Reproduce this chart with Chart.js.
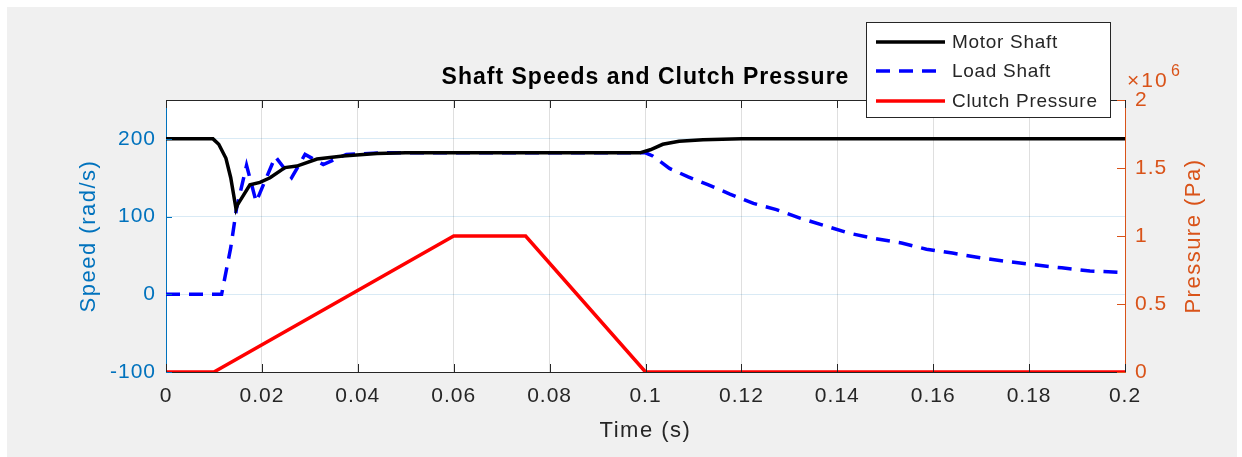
<!DOCTYPE html>
<html>
<head>
<meta charset="utf-8">
<script src="https://cdn.jsdelivr.net/npm/chart.js@4/dist/chart.umd.min.js"></script>
<style>
  html, body { margin: 0; padding: 0; background: #ffffff; }
  #wrap { width: 1242px; height: 457px; position: relative; }
</style>
</head>
<body>
<div id="wrap"><canvas id="shaft" width="1242" height="457"></canvas></div>
<script>
const titleText = 'Shaft Speeds and Clutch Pressure';

const motorTime  = [0, 0.0098, 0.011, 0.0125, 0.0135, 0.0146, 0.0149, 0.0162, 0.0175, 0.0196, 0.0217, 0.0248, 0.0273, 0.0315, 0.0369, 0.044, 0.05, 0.06, 0.08, 0.0988, 0.101, 0.1036, 0.107, 0.112, 0.12, 0.14, 0.2];
const motorSpeed = [200, 200, 193, 175, 150, 110, 115, 128, 141, 144, 150, 163, 165, 174, 178, 181, 182, 182, 182, 182, 186, 193, 197, 199, 200, 200, 200];

const loadTime  = [0, 0.0116, 0.0135, 0.0147, 0.0168, 0.0188, 0.0228, 0.0262, 0.029, 0.0328, 0.0376, 0.045, 0.1, 0.1015, 0.105, 0.1089, 0.113, 0.1176, 0.1225, 0.1273, 0.1322, 0.137, 0.1422, 0.1475, 0.1534, 0.1586, 0.164, 0.1698, 0.1757, 0.181, 0.1868, 0.1927, 0.2];
const loadSpeed = [0, 0, 60, 110, 166, 119, 177, 150, 180, 167, 180, 182, 182, 178, 162, 151, 141, 129, 117, 109, 98, 89, 79, 72, 66, 58, 53, 47, 42, 38, 34, 30, 28];

const clutchTime     = [0, 0.01, 0.06, 0.075, 0.1, 0.2];
const clutchPressure = [0, 0, 1e6, 1e6, 0, 0];

const xTicks      = [0, 0.02, 0.04, 0.06, 0.08, 0.1, 0.12, 0.14, 0.16, 0.18, 0.2];
const xTickLabels = ['0', '0.02', '0.04', '0.06', '0.08', '0.1', '0.12', '0.14', '0.16', '0.18', '0.2'];
const speedTicks  = [-100, 0, 100, 200];
const pressTicks  = [0, 0.5e6, 1e6, 1.5e6, 2e6];
const pressLabels = ['0', '0.5', '1', '1.5', '2'];

const BLUE = '#0072BD';
const ORANGE = '#D95319';
const DARK = '#262626';
const FONT = "'Liberation Sans', Arial, Helvetica, sans-serif";

function pts(xs, ys) {
  return xs.map((x, i) => ({ x: x, y: ys[i] }));
}

const decor = {
  id: 'decor',
  beforeDraw(chart) {
    const ctx = chart.ctx;
    const a = chart.chartArea;
    ctx.save();
    ctx.fillStyle = '#f0f0f0';
    ctx.fillRect(7, 7, 1230, 450);
    ctx.fillStyle = '#ffffff';
    ctx.fillRect(a.left, a.top, a.right - a.left, a.bottom - a.top);
    ctx.restore();
    // reference text runs a little wide
    ctx.letterSpacing = '1px';
  },
  afterDatasetsDraw(chart) {
    const ctx = chart.ctx;
    const a = chart.chartArea;
    const xs = chart.scales.x, yl = chart.scales.y, yr = chart.scales.y1;
    ctx.save();
    ctx.lineWidth = 1;
    // top border
    ctx.strokeStyle = DARK;
    ctx.beginPath();
    ctx.moveTo(a.left, a.top + 0.5);
    ctx.lineTo(a.right, a.top + 0.5);
    ctx.stroke();
    // inward ticks
    xTicks.forEach(v => {
      const px = Math.round(xs.getPixelForValue(v)) + 0.5;
      ctx.beginPath();
      ctx.moveTo(px, a.bottom); ctx.lineTo(px, a.bottom - 8);
      ctx.moveTo(px, a.top); ctx.lineTo(px, a.top + 8);
      ctx.stroke();
    });
    ctx.strokeStyle = BLUE;
    speedTicks.forEach(v => {
      const py = Math.round(yl.getPixelForValue(v)) + 0.5;
      ctx.beginPath();
      ctx.moveTo(a.left, py); ctx.lineTo(a.left + 6, py);
      ctx.stroke();
    });
    ctx.strokeStyle = ORANGE;
    pressTicks.forEach(v => {
      const py = Math.round(yr.getPixelForValue(v)) + 0.5;
      ctx.beginPath();
      ctx.moveTo(a.right, py); ctx.lineTo(a.right - 8, py);
      ctx.stroke();
    });

    // title
    ctx.letterSpacing = '1px';
    ctx.fillStyle = '#000000';
    ctx.font = 'bold 23px ' + FONT;
    ctx.textAlign = 'center';
    ctx.textBaseline = 'middle';
    ctx.fillText(titleText, (a.left + a.right) / 2, 78);

    // axis titles
    ctx.letterSpacing = '1.5px';
    ctx.font = '22px ' + FONT;
    ctx.fillStyle = DARK;
    ctx.fillText('Time (s)', (a.left + a.right) / 2, 431);
    ctx.save();
    ctx.translate(89, (a.top + a.bottom) / 2);
    ctx.rotate(-Math.PI / 2);
    ctx.fillStyle = BLUE;
    ctx.fillText('Speed (rad/s)', 0, 0);
    ctx.restore();
    ctx.save();
    ctx.translate(1194, (a.top + a.bottom) / 2);
    ctx.rotate(-Math.PI / 2);
    ctx.fillStyle = ORANGE;
    ctx.fillText('Pressure (Pa)', 0, 0);
    ctx.restore();

    // exponent
    ctx.fillStyle = ORANGE;
    ctx.textAlign = 'left';
    ctx.letterSpacing = '2px';
    ctx.font = '21px ' + FONT;
    ctx.fillText('\u00d710', 1127, 81);
    ctx.letterSpacing = '0px';
    ctx.font = '16px ' + FONT;
    ctx.fillText('6', 1171, 72);

    // legend
    const bx = 866, by = 22, bw = 244, bh = 95;
    ctx.fillStyle = '#ffffff';
    ctx.fillRect(bx, by, bw, bh);
    ctx.strokeStyle = DARK;
    ctx.lineWidth = 1;
    ctx.strokeRect(bx + 0.5, by + 0.5, bw, bh);
    const rows = [42, 71, 101];
    ctx.letterSpacing = '0.7px';
    chart.data.datasets.forEach((ds, i) => {
      ctx.strokeStyle = ds.borderColor;
      ctx.lineWidth = ds.borderWidth;
      ctx.setLineDash(ds.borderDash || []);
      ctx.beginPath();
      ctx.moveTo(876, rows[i]);
      ctx.lineTo(945, rows[i]);
      ctx.stroke();
      ctx.setLineDash([]);
      ctx.fillStyle = DARK;
      ctx.font = '19px ' + FONT;
      ctx.textAlign = 'left';
      ctx.fillText(ds.label, 952, rows[i] + 1);
    });
    ctx.restore();
  }
};

const ctx = document.getElementById('shaft').getContext('2d');

window.shaftChart = new Chart(ctx, {
  type: 'line',
  data: {
    datasets: [
      {
        label: 'Motor Shaft',
        data: pts(motorTime, motorSpeed),
        borderColor: '#000000',
        borderWidth: 3.5,
        pointRadius: 0,
        tension: 0,
        yAxisID: 'y'
      },
      {
        label: 'Load Shaft',
        data: pts(loadTime, loadSpeed),
        borderColor: '#0000FF',
        borderWidth: 3.5,
        borderDash: [14, 9],
        pointRadius: 0,
        tension: 0,
        yAxisID: 'y'
      },
      {
        label: 'Clutch Pressure',
        data: pts(clutchTime, clutchPressure),
        borderColor: '#FF0000',
        borderWidth: 3.5,
        pointRadius: 0,
        tension: 0,
        yAxisID: 'y1'
      }
    ]
  },
  options: {
    responsive: false,
    animation: false,
    devicePixelRatio: 1,
    layout: {
      padding: { top: 100, left: 0, right: 0, bottom: 0 }
    },
    plugins: {
      legend: { display: false },
      title: { display: false },
      tooltip: { enabled: false }
    },
    scales: {
      x: {
        type: 'linear',
        min: 0,
        max: 0.2,
        afterBuildTicks: s => { s.ticks = xTicks.map(v => ({ value: v })); },
        afterFit: s => { s.height = 85; },
        ticks: {
          callback: (v, i) => xTickLabels[i],
          color: DARK,
          font: { family: FONT, size: 21 },
          padding: 12,
          maxRotation: 0
        },
        grid: { color: 'rgba(38,38,38,0.15)', drawTicks: false },
        border: { color: DARK, width: 1 }
      },
      y: {
        position: 'left',
        min: -100,
        max: 250,
        afterBuildTicks: s => { s.ticks = speedTicks.map(v => ({ value: v })); },
        afterFit: s => { s.width = 166; },
        ticks: {
          color: BLUE,
          font: { family: FONT, size: 21 },
          padding: 10
        },
        grid: { color: 'rgba(0,114,189,0.15)', drawTicks: false },
        border: { color: BLUE, width: 1 }
      },
      y1: {
        position: 'right',
        min: 0,
        max: 2e6,
        afterBuildTicks: s => { s.ticks = pressTicks.map(v => ({ value: v })); },
        afterFit: s => { s.width = 117; },
        ticks: {
          callback: (v, i) => pressLabels[i],
          color: ORANGE,
          font: { family: FONT, size: 21 },
          padding: 10
        },
        grid: { drawOnChartArea: false, drawTicks: false },
        border: { color: ORANGE, width: 1 }
      }
    }
  },
  plugins: [decor]
});
</script>
</body>
</html>
